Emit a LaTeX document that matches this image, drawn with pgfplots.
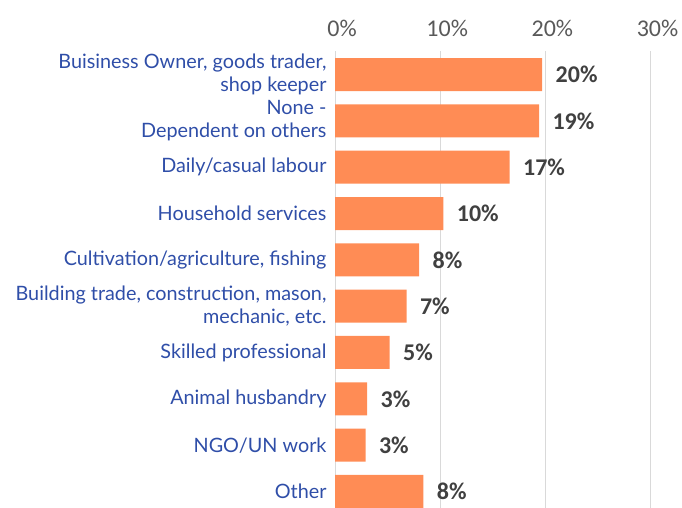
\documentclass[border=0pt]{standalone}
\usepackage{pgfplots}
\pgfplotsset{compat=1.18}
\usepackage{fontspec}
\setmainfont{Carlito}
\newfontfamily\catfont{Lato}
\definecolor{barc}{HTML}{FF8C55}
\definecolor{catblue}{HTML}{2F4EA8}
\definecolor{tickgray}{HTML}{595959}
\definecolor{valgray}{HTML}{404040}
\definecolor{gridc}{HTML}{D9D9D9}
\begin{document}
\begin{tikzpicture}[x=1pt,y=1pt]
\useasboundingbox (0,0) rectangle (682,507);
\begin{axis}[
  at={(335pt,-7.65pt)}, anchor=south west,
  scale only axis, width=315.5pt, height=463.3pt,
  xbar, bar width=33pt,
  xmin=0, xmax=30, ymin=-0.5, ymax=9.5,
  axis line style={draw=none},
  xmajorgrids, grid style={draw=gridc, line width=1pt},
  xtick={0,10,20,30},
  xticklabel pos=upper,
  xticklabel={\pgfmathprintnumber{\tick}\%},
  xticklabel style={font=\fontsize{24}{28}\selectfont, text=tickgray, xshift=7pt, yshift=11pt},
  /pgf/number format/assume math mode=true,
  major tick length=0pt,
  ytick={0,...,9},
  yticklabels={{Other},{NGO/UN work},{Animal husbandry},{Skilled professional},{Building trade, construction, mason,\\mechanic, etc.},{Cultivation/agriculture, fishing},{Household services},{Daily/casual labour},{None -\\Dependent on others},{Buisiness Owner, goods trader,\\shop keeper}},
  yticklabel style={align=right, text=catblue, font=\catfont\fontsize{19.8}{22.5}\selectfont, xshift=-5pt},
  point meta=explicit symbolic,
  nodes near coords={\pgfplotspointmeta\%},
  nodes near coords style={anchor=west, xshift=10pt, font=\bfseries\fontsize{24}{28}\selectfont, text=valgray},
]
\addplot[fill=barc, draw=none] table[x=v, y=i, meta=lab] {
i v lab
9 19.7 20
8 19.4 19
7 16.6 17
6 10.3 10
5 8.0 8
4 6.8 7
3 5.2 5
2 3.05 3
1 2.9 3
0 8.4 8
};
\end{axis}
\end{tikzpicture}
\end{document}
